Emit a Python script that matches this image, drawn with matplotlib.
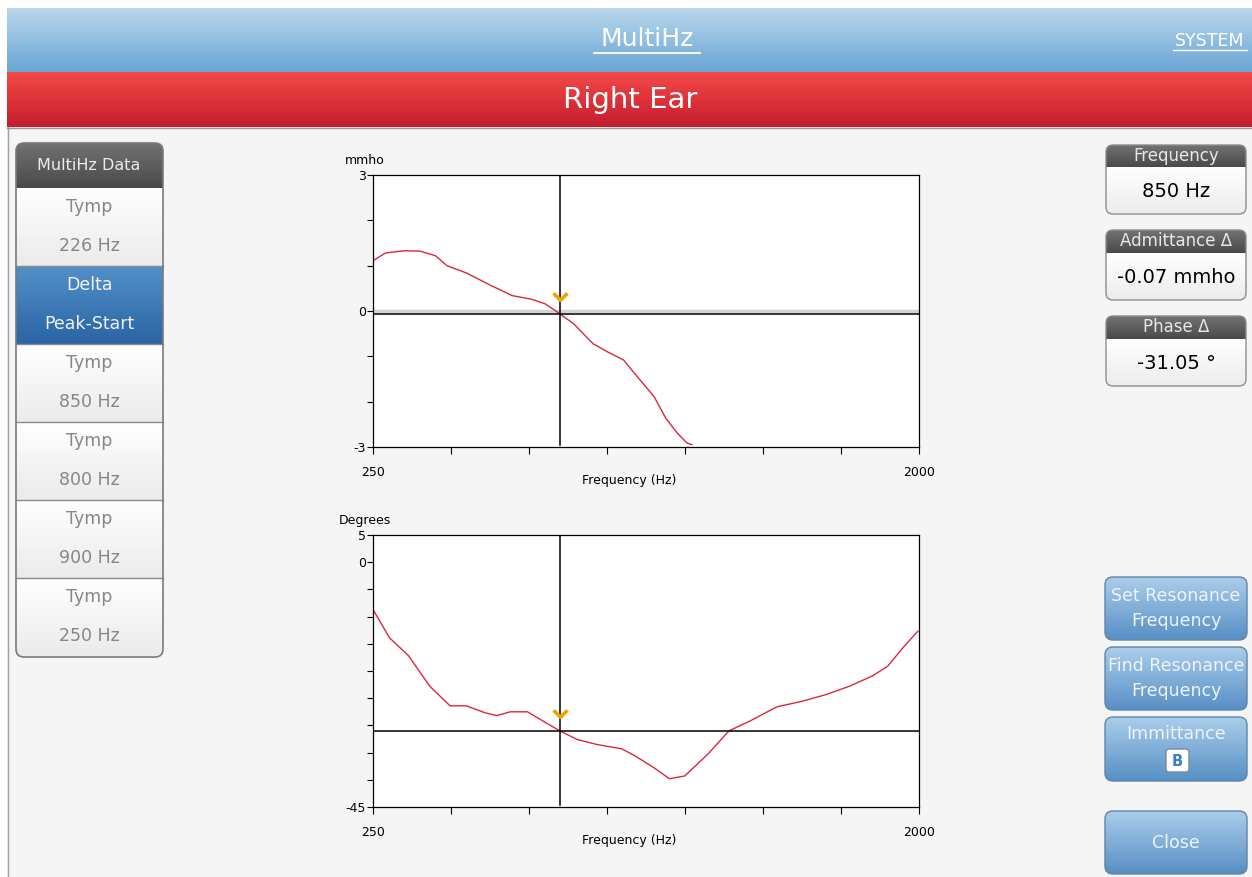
import numpy as np
import matplotlib
matplotlib.use('Agg')
import matplotlib.pyplot as plt
from matplotlib.patches import FancyBboxPatch, Rectangle
from matplotlib.colors import LinearSegmentedColormap
from matplotlib.path import Path
from matplotlib import transforms

W, H = 1252, 877

# values
adm_freq = [250, 290, 352, 401, 450, 487, 549, 623, 696, 758, 801, 832, 850,
            893, 955, 1004, 1053, 1102, 1151, 1188, 1225, 1256, 1272]
adm_mmho = [1.11, 1.28, 1.33, 1.32, 1.22, 1.00, 0.84, 0.58, 0.34, 0.26, 0.16, 0.02, -0.07,
            -0.28, -0.72, -0.91, -1.08, -1.49, -1.89, -2.36, -2.69, -2.91, -2.95]
phase_freq = [250, 303, 364, 432, 497, 549, 610, 647, 690, 745, 795, 850, 905, 967,
              1047, 1090, 1151, 1200, 1249, 1323, 1391, 1458, 1544, 1630, 1704,
              1777, 1851, 1900, 1949, 1996]
phase_deg = [-8.7, -13.9, -17.2, -22.8, -26.4, -26.4, -27.7, -28.2, -27.5, -27.5,
             -29.2, -31.05, -32.6, -33.5, -34.3, -35.6, -37.8, -39.8, -39.3, -35.3,
             -31.0, -29.2, -26.6, -25.5, -24.3, -22.8, -20.9, -19.1, -15.7, -12.7]
freq_ticks = [250, 500, 750, 1000, 1250, 1500, 1750, 2000]
adm_ticks = [-3, -2, -1, 0, 1, 2, 3]
phase_ticks = [-45, -40, -35, -30, -25, -20, -15, -10, -5, 0, 5]

cursor_hz = 850
cursor_adm = -0.07
cursor_phase = -31.05

side_rows = [("Tymp", "226 Hz"), ("Delta", "Peak-Start"), ("Tymp", "850 Hz"),
             ("Tymp", "800 Hz"), ("Tymp", "900 Hz"), ("Tymp", "250 Hz")]
selected_row = 1
readouts = [("Frequency", f"{cursor_hz} Hz"),
            ("Admittance Δ", f"{cursor_adm:.2f} mmho"),
            ("Phase Δ", f"{cursor_phase:.2f} °")]
buttons = [("Set Resonance", "Frequency"), ("Find Resonance", "Frequency"),
           ("Immittance",), ("Close",)]

fig = plt.figure(figsize=(W / 100, H / 100), dpi=100)
fig.patch.set_facecolor('white')
ui = fig.add_axes([0, 0, 1, 1])
ui.set_axis_off()


def shade(x0, y0, x1, y1, top, bottom, clip=None, z=1):
    cmap = LinearSegmentedColormap.from_list('g', [top, bottom])
    im = ui.imshow(np.linspace(0, 1, 100)[:, None], cmap=cmap, aspect='auto',
                   extent=(x0, x1, y1, y0), zorder=z, interpolation='bilinear')
    if clip is not None:
        im.set_clip_path(clip)
    return im


def rbox(x0, y0, x1, y1, r=7, ec='#8a8a8a', lw=1.0, z=4):
    p = FancyBboxPatch((x0, y0), x1 - x0, y1 - y0,
                       boxstyle=f'round,pad=0,rounding_size={r}',
                       fc='none', ec=ec, lw=lw, zorder=z)
    ui.add_patch(p)
    return p


# page background and title bars
ui.add_patch(Rectangle((7, 127), W - 7, H - 127, fc='#f5f5f5', ec='none', zorder=0))
ui.plot([7.5, 7.5], [127, H], color='#a0a0a0', lw=1, zorder=2)
shade(7, 8, W, 72, '#bad7ed', '#6aa5d4')
shade(7, 72, W, 127, '#f54a48', '#c41c2c')
ui.plot([7, W], [127.5, 127.5], color='#9a9a9a', lw=1, zorder=2)

ui.text(647, 39, "MultiHz", color='white', fontsize=18, ha='center', va='center', zorder=5)
ui.plot([594, 700], [53, 53], color='white', lw=1.3, zorder=5)
ui.text(1210, 41, "SYSTEM", color='white', fontsize=12.5, ha='center', va='center', zorder=5)
ui.plot([1173, 1247], [50, 50], color='white', lw=1, zorder=5)
ui.text(630, 100, "Right Ear", color='white', fontsize=21, ha='center', va='center', zorder=5)

# left list
outer = rbox(16, 143, 163, 657, r=8, ec='#7a7a7a', lw=1.2, z=6)
shade(16, 143, 163, 188, '#727272', '#4a4a4a', clip=outer, z=2)
ui.text(89, 165, "MultiHz Data", color='#ececec', fontsize=11.5, ha='center', va='center', zorder=5)
for i, (a, b) in enumerate(side_rows):
    y0 = 188 + 78 * i
    y1 = y0 + 78
    if i == selected_row:
        shade(16, y0, 163, y1, '#5390c8', '#2a64a4', clip=outer, z=2)
        tc = '#f2f2f2'
    else:
        shade(16, y0, 163, y1, '#ffffff', '#ebebeb', clip=outer, z=2)
        tc = '#8a8682'
    if i < len(side_rows) - 1:
        ui.plot([16, 163], [y1, y1], color='#8a8a8a', lw=1, zorder=3)
    ui.text(89, y0 + 19, a, color=tc, fontsize=12.5, ha='center', va='center', zorder=5)
    ui.text(89, y0 + 58, b, color=tc, fontsize=12.5, ha='center', va='center', zorder=5)

# readout boxes
for (title, val), (y0, yh, y1) in zip(readouts, [(145, 167, 214), (230, 253, 300), (316, 339, 386)]):
    box = rbox(1106, y0, 1246, y1, r=7, ec='#8c8c8c')
    shade(1106, y0, 1246, yh, '#727272', '#4a4a4a', clip=box, z=2)
    shade(1106, yh, 1246, y1, '#ffffff', '#ececec', clip=box, z=2)
    ui.text(1176, (y0 + yh) / 2, title, color='#e8e8e8', fontsize=12, ha='center', va='center', zorder=5)
    ui.text(1176, (yh + y1) / 2 + 1, val, color='black', fontsize=14, ha='center', va='center', zorder=5)

# buttons
for lines, (y0, y1) in zip(buttons, [(577, 640), (647, 710), (717, 781), (811, 874)]):
    box = rbox(1105, y0, 1247, y1, r=8, ec='#5f84aa')
    shade(1105, y0, 1247, y1, '#abcdea', '#5790c5', clip=box, z=2)
    if len(lines) == 2:
        ui.text(1176, y0 + 19, lines[0], color='#eef4fa', fontsize=12.5, ha='center', va='center', zorder=5)
        ui.text(1176, y0 + 44, lines[1], color='#eef4fa', fontsize=12.5, ha='center', va='center', zorder=5)
    elif lines[0] == "Immittance":
        ui.text(1176, y0 + 17, lines[0], color='#eef4fa', fontsize=12.5, ha='center', va='center', zorder=5)
        bb = rbox(1166, 749, 1189, 772, r=3, ec='#7a8a9a', z=6)
        bb.set_facecolor('white')
        ui.text(1177.5, 761, "B", color='#3a7fc0', fontsize=10.5, fontweight='bold',
                ha='center', va='center', zorder=7)
    else:
        ui.text(1176, (y0 + y1) / 2, lines[0], color='#eef4fa', fontsize=12.5, ha='center', va='center', zorder=5)

ui.set_xlim(0, W)
ui.set_ylim(H, 0)


def px_axes(l, t, r, b):
    return fig.add_axes([l / W, (H - b) / H, (r - l) / W, (b - t) / H])


chev = Path([(-1, 0.6), (0, -0.4), (1, 0.6)], [Path.MOVETO, Path.LINETO, Path.LINETO])


def style(ax, yticks, ylabels, unit):
    ax.set_facecolor('white')
    ax.set_xlim(freq_ticks[0], freq_ticks[-1])
    ax.set_ylim(yticks[0], yticks[-1])
    ax.set_xticks(freq_ticks)
    ax.set_xticklabels([str(f) if f in (freq_ticks[0], freq_ticks[-1]) else '' for f in freq_ticks])
    ax.set_yticks(yticks)
    ax.set_yticklabels(ylabels)
    ax.tick_params(axis='x', direction='out', length=5, width=0.8, labelsize=9, pad=9)
    ax.tick_params(axis='y', direction='out', length=4, width=0.8, labelsize=9, pad=1)
    for s in ax.spines.values():
        s.set_linewidth(0.9)
    ax.text(-0.015, 1.03, unit, transform=ax.transAxes, ha='center', va='bottom', fontsize=9)
    ax.text(0.47, -0.123, "Frequency (Hz)", transform=ax.transAxes, ha='center', va='center', fontsize=9)


def cursor(ax, yval):
    ax.axhline(yval, color='black', lw=1.1, zorder=3)
    ax.axvline(cursor_hz, ymax=0.995, ymin=0.008, color='black', lw=1.1, zorder=3)
    off = transforms.offset_copy(ax.transData, fig=fig, y=17, units='dots')
    ax.plot([cursor_hz], [yval], marker=chev, markersize=10, mew=2.6, mfc='none',
            color='#f2a200', transform=off, zorder=5, linestyle='none')


ax1 = px_axes(373, 175, 919, 447)
ax1.axhline(0, color='#d4d4d4', lw=2.5, zorder=1)
ax1.plot(adm_freq, adm_mmho, color='#d8283e', lw=1.0, zorder=2)
style(ax1, adm_ticks, ['-3', '', '', '0', '', '', '3'], "mmho")
cursor(ax1, cursor_adm)

ax2 = px_axes(373, 535, 919, 807)
ax2.plot(phase_freq, phase_deg, color='#d8283e', lw=1.0, zorder=2)
style(ax2, phase_ticks, [str(t) if t in (-45, 0, 5) else '' for t in phase_ticks], "Degrees")
cursor(ax2, cursor_phase)

fig.savefig('out.png', dpi=100)
